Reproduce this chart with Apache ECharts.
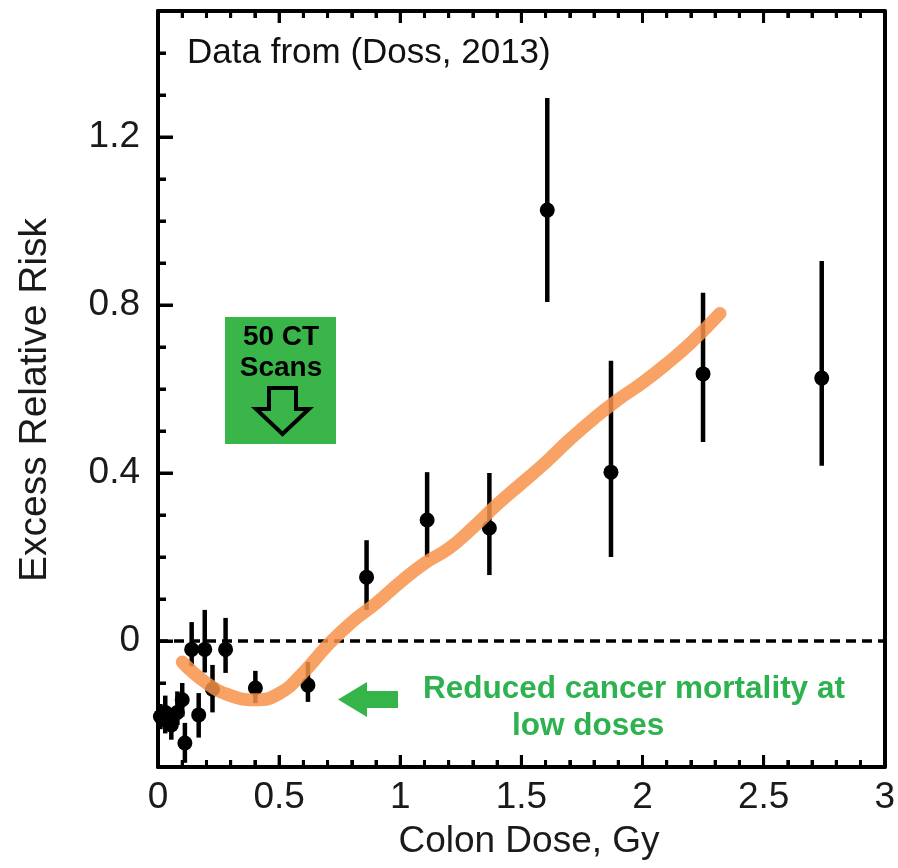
<!DOCTYPE html>
<html><head><meta charset="utf-8">
<script src="https://cdn.jsdelivr.net/npm/echarts@6/dist/echarts.min.js"></script>
<style>html,body{margin:0;padding:0;background:#fff}#c{width:898px;height:868px}</style>
</head><body><div id="c"></div>
<script>
// Data (Colon dose, Gy vs Excess Relative Risk)
const doses     = [0.01, 0.03, 0.055, 0.08, 0.10, 0.111, 0.139, 0.168, 0.193, 0.225, 0.279, 0.402, 0.619, 0.861, 1.111, 1.368, 1.607, 1.87, 2.25, 2.74];
const err       = [-0.18, -0.17, -0.20, -0.17, -0.14, -0.243, -0.02, -0.176, -0.02, -0.115, -0.02, -0.112, -0.105, 0.152, 0.288, 0.269, 1.026, 0.402, 0.636, 0.626];
const errLow    = [-0.21, -0.22, -0.235, -0.20, -0.18, -0.29, -0.06, -0.23, -0.075, -0.17, -0.076, -0.148, -0.145, 0.074, 0.20, 0.157, 0.807, 0.20, 0.474, 0.417];
const errHigh   = [-0.15, -0.13, -0.16, -0.12, -0.10, -0.195, 0.045, -0.124, 0.074, -0.057, 0.055, -0.071, -0.05, 0.24, 0.402, 0.40, 1.293, 0.667, 0.829, 0.905];
// Fitted curve (orange)
const fitDose   = [0.1, 0.2, 0.3, 0.4, 0.5, 0.6, 0.7, 0.8, 0.9, 1.0, 1.1, 1.2, 1.3, 1.4, 1.5, 1.6, 1.7, 1.8, 1.9, 2.0, 2.1, 2.2, 2.32];
const fitERR    = [-0.05, -0.10, -0.13, -0.14, -0.125, -0.075, -0.01, 0.045, 0.09, 0.14, 0.185, 0.22, 0.27, 0.325, 0.375, 0.425, 0.48, 0.53, 0.575, 0.615, 0.66, 0.71, 0.78];
// Axis ticks
const yLabelTicks = [0, 0.4, 0.8, 1.2];
const xMajorTicks = [0, 0.5, 1, 1.5, 2, 2.5, 3];
const xMinorTicks = [0, 0.1, 0.2, 0.3, 0.4, 0.5, 0.6, 0.7, 0.8, 0.9, 1, 1.1, 1.2, 1.3, 1.4, 1.5, 1.6, 1.7, 1.8, 1.9, 2, 2.1, 2.2, 2.3, 2.4, 2.5, 2.6, 2.7, 2.8, 2.9, 3];
const yMinorTicks = [-0.3, -0.2, -0.1, 0, 0.1, 0.2, 0.3, 0.4, 0.5, 0.6, 0.7, 0.8, 0.9, 1, 1.1, 1.2, 1.3, 1.4, 1.5];

const X_MIN = 0, X_MAX = 3, Y_MIN = -0.3, Y_MAX = 1.5;
const GRID = {left: 158, right: 9, top: 11, bottom: 101};
const W = 898, H = 868;
const xPerPx = (X_MAX - X_MIN) / (W - GRID.left - GRID.right);
const yPerPx = (Y_MAX - Y_MIN) / (H - GRID.top - GRID.bottom);

const FONT = "'Liberation Sans', Arial, Helvetica, sans-serif";
const chart = echarts.init(document.getElementById('c'), null, {renderer: 'canvas'});

const points = doses.map((d, i) => [d, err[i]]);
const bars = doses.map((d, i) => [d, errLow[i], errHigh[i]]);
const fit = fitDose.map((d, i) => [d, fitERR[i]]);
const near = (arr, v) => arr.some(t => Math.abs(t - v) < 1e-6);

// tick segments expressed in axis units (drawn via markLine through the axes)
const solid = {type: 'solid', width: 3, color: '#000'};
const tickLines = [];
xMinorTicks.forEach(v => {
  const len = (near(xMajorTicks, v) ? 12 : 7) * yPerPx;
  tickLines.push([{coord: [v, Y_MIN], lineStyle: solid}, {coord: [v, Y_MIN + len]}]);
  tickLines.push([{coord: [v, Y_MAX], lineStyle: solid}, {coord: [v, Y_MAX - len]}]);
});
yMinorTicks.forEach(v => {
  const len = (near(yLabelTicks, v) ? 15 : 8) * xPerPx;
  tickLines.push([{coord: [X_MIN, v], lineStyle: solid}, {coord: [X_MIN + len, v]}]);
});

const al = {show: true, onZero: false, lineStyle: {color: '#000', width: 4}};

const option = {
  backgroundColor: '#fff',
  animation: false,
  grid: GRID,
  xAxis: [{
    type: 'value', min: X_MIN, max: X_MAX, interval: 0.5, position: 'bottom',
    axisLine: al, axisTick: {show: false}, minorTick: {show: false},
    splitLine: {show: false},
    axisLabel: {fontFamily: FONT, fontSize: 37, color: '#1a1a1a', margin: 12}
  }, {
    type: 'value', min: X_MIN, max: X_MAX, interval: 0.5, position: 'top',
    axisLine: al, axisTick: {show: false},
    splitLine: {show: false}, axisLabel: {show: false}
  }],
  yAxis: [{
    type: 'value', min: Y_MIN, max: Y_MAX, interval: 0.1, position: 'left',
    axisLine: al, axisTick: {show: false},
    splitLine: {show: false},
    axisLabel: {fontFamily: FONT, fontSize: 37, color: '#1a1a1a', margin: 18, customValues: yLabelTicks}
  }, {
    type: 'value', min: Y_MIN, max: Y_MAX, position: 'right',
    axisLine: al, axisTick: {show: false},
    splitLine: {show: false}, axisLabel: {show: false}
  }],
  series: [{
    // x-axis ticks (bottom and mirrored top), drawn through the x scale
    type: 'custom', name: 'x ticks', xAxisIndex: 0, yAxisIndex: 0, z: 6, silent: true, clip: false,
    data: xMinorTicks.map(v => [v, Y_MIN]),
    renderItem: (params, api) => {
      const v = api.value(0);
      const pb = api.coord([v, Y_MIN]);
      const pt = api.coord([v, Y_MAX]);
      const len = near(xMajorTicks, v) ? 12 : 7;
      const st = {stroke: '#000', lineWidth: 3};
      return {type: 'group', children: [
        {type: 'line', shape: {x1: pb[0], y1: pb[1], x2: pb[0], y2: pb[1] - len}, style: st},
        {type: 'line', shape: {x1: pt[0], y1: pt[1], x2: pt[0], y2: pt[1] + len}, style: st}
      ]};
    }
  }, {
    // y-axis ticks (left), drawn through the y scale
    type: 'custom', name: 'y ticks', xAxisIndex: 0, yAxisIndex: 0, z: 6, silent: true, clip: false,
    data: yMinorTicks.map(v => [X_MIN, v]),
    renderItem: (params, api) => {
      const v = api.value(1);
      const p = api.coord([X_MIN, v]);
      const len = near(yLabelTicks, v) ? 15 : 8;
      return {type: 'line', shape: {x1: p[0], y1: p[1], x2: p[0] + len, y2: p[1]},
        style: {stroke: '#000', lineWidth: 3}};
    }
  }, {
    type: 'custom', name: 'error bars', xAxisIndex: 0, yAxisIndex: 0, z: 3,
    data: bars,
    renderItem: (params, api) => {
      const a = api.coord([api.value(0), api.value(1)]);
      const b = api.coord([api.value(0), api.value(2)]);
      return {type: 'line', shape: {x1: a[0], y1: a[1], x2: b[0], y2: b[1]},
        style: {stroke: '#000', lineWidth: 4.5}};
    },
    markLine: {
      silent: true, symbol: 'none', label: {show: false},
      lineStyle: {color: '#000', width: 3.5, type: [10, 6]},
      data: [{yAxis: 0}].concat(tickLines)
    }
  }, {
    type: 'scatter', name: 'ERR', xAxisIndex: 0, yAxisIndex: 0, z: 4,
    data: points, symbol: 'circle', symbolSize: 15,
    itemStyle: {color: '#000', opacity: 1}
  }, {
    type: 'line', name: 'fit', xAxisIndex: 0, yAxisIndex: 0, z: 5,
    data: fit, smooth: 0.5, showSymbol: false, symbol: 'none',
    lineStyle: {color: '#f7934a', width: 13, opacity: 0.85, cap: 'round'}
  }],
  graphic: [
    {type: 'text', x: 35, y: 400, rotation: Math.PI / 2, z: 10,
      style: {text: 'Excess Relative Risk', font: '39px ' + FONT, fill: '#1a1a1a', align: 'center', verticalAlign: 'middle'}},
    {type: 'text', x: 529, y: 842, z: 10,
      style: {text: 'Colon Dose, Gy', font: '37px ' + FONT, fill: '#1a1a1a', align: 'center', verticalAlign: 'middle'}},
    {type: 'text', left: 187, top: 36, z: 10,
      style: {text: 'Data from (Doss, 2013)', font: '35px ' + FONT, fill: '#111'}},
    {type: 'rect', shape: {x: 225, y: 317, width: 111, height: 127}, z: 10,
      style: {fill: '#3ab54a'}},
    {type: 'text', x: 281, y: 337, z: 11,
      style: {text: '50 CT', font: 'bold 28px ' + FONT, fill: '#000', align: 'center', verticalAlign: 'middle'}},
    {type: 'text', x: 281, y: 368, z: 11,
      style: {text: 'Scans', font: 'bold 28px ' + FONT, fill: '#000', align: 'center', verticalAlign: 'middle'}},
    {type: 'polygon', z: 11,
      shape: {points: [[269, 388], [296, 388], [296, 409], [309, 409], [282.5, 434], [256, 409], [269, 409]]},
      style: {fill: '#3ab54a', stroke: '#000', lineWidth: 4, lineJoin: 'miter'}},
    {type: 'polygon', z: 11,
      shape: {points: [[338, 699.5], [367, 682], [367, 691], [398, 691], [398, 708], [367, 708], [367, 717]]},
      style: {fill: '#35b44a'}},
    {type: 'text', left: 423, top: 673, z: 11,
      style: {text: 'Reduced cancer mortality at', font: 'bold 31.5px ' + FONT, fill: '#2db24f'}},
    {type: 'text', left: 512, top: 710, z: 11,
      style: {text: 'low doses', font: 'bold 31.5px ' + FONT, fill: '#2db24f'}}
  ]
};
chart.setOption(option);
</script>
</body></html>
